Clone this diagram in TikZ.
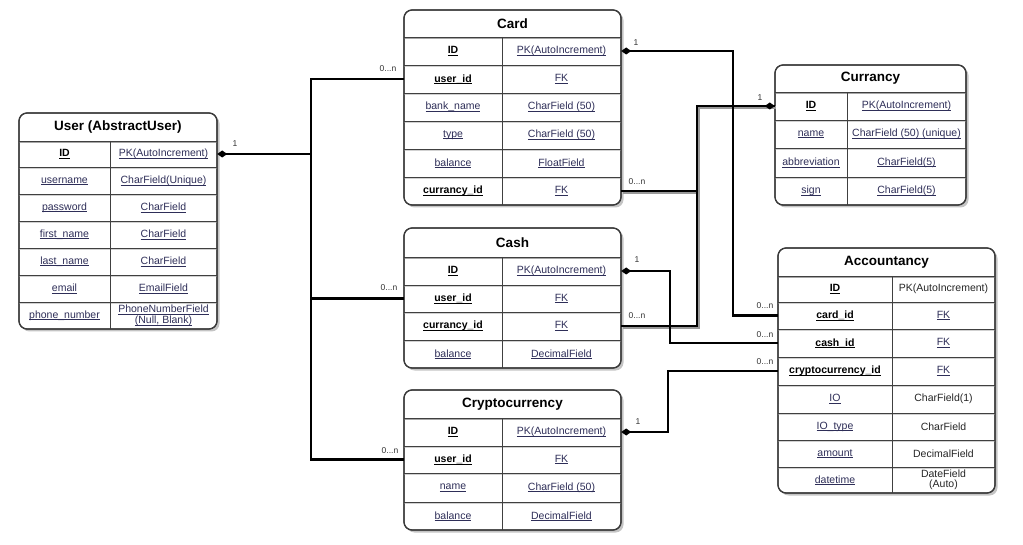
\documentclass[tikz,border=0pt]{standalone}
\usepackage{fontspec}
\setmainfont{Liberation Sans}
\usetikzlibrary{arrows.meta}
\definecolor{ulc}{HTML}{2E2E58}
\definecolor{bordc}{HTML}{3A3A3A}
\definecolor{shc}{HTML}{C4C4C4}
\newsavebox\ulbox
\newcommand\ulx[1]{\sbox\ulbox{#1}\rlap{\rule[-1.6pt]{\wd\ulbox}{0.55pt}}\usebox\ulbox}
\tikzset{
  tbl/.style={draw=bordc, line width=1.2pt, rounded corners=8pt, fill=white},
  tblshadow/.style={fill=shc, rounded corners=8pt},
  title/.style={font=\fontsize{13.5}{16}\selectfont\bfseries, text=black},
  cell/.style={inner sep=0pt, font=\fontsize{10.5}{11.5}\selectfont, align=center, text=ulc},
  keyc/.style={cell, text=black, font=\fontsize{10.5}{11.5}\selectfont\bfseries},
  plainc/.style={cell, text=black!85},
  rowline/.style={draw=black!75, line width=0.9pt},
  rowsh/.style={draw=black!18, line width=1pt},
  conn/.style={draw=black, line width=2.4pt},
  onetip/.style={{Diamond[length=10pt,width=7pt]}-},
  onetipend/.style={-{Diamond[length=10pt,width=7pt]}},
  shconn/.style={draw=black!40, line width=2.4pt, transform canvas={shift={(1.6pt,-1.6pt)}}},
  mult/.style={font=\fontsize{8.5}{9.5}\selectfont, text=black!80, inner sep=1pt},
}
% #1 name #2 x1 #3 y1 #4 x2 #5 y2 #6 header y #7 div x #8 title #9 row lines
\newcommand\ertable[9]{%
  \fill[tblshadow] (#2+2.5,#3+2.5) rectangle (#4+2.5,#5+2.5);
  \draw[tbl] (#2,#3) rectangle (#4,#5);
  \node[title] (#1) at ({(#2+#4)/2},{(#3+#6)/2}) {#8};
  \draw[draw=black!35, line width=2pt] (#2,#6+1) -- (#4,#6+1);
  \draw[rowline] (#2,#6) -- (#4,#6);
  \foreach \yy in {#9} {\draw[rowsh] (#2,\yy+1.2) -- (#4,\yy+1.2); \draw[rowline] (#2,\yy) -- (#4,\yy);}
  \draw[rowline] (#7,#6) -- (#7,#5);
  \draw[tbl, fill=none] (#2,#3) rectangle (#4,#5);
}
% #1 name #2 x1 #3 div #4 x2 #5 y #6 lstyle #7 ltext #8 rstyle #9 rtext
\newcommand\erow[9]{%
  \node[#6, minimum width={#3-#2}] (#1k) at ({(#2+#3)/2},#5) {#7};
  \node[#8, minimum width={#4-#3}] (#1v) at ({(#3+#4)/2},#5) {#9};
}
\begin{document}
\begin{tikzpicture}[x=1pt,y=-1pt]
\useasboundingbox (0,0) rectangle (1023,545);

% User
\ertable{user}{19}{113}{217}{329}{141}{110}{User (AbstractUser)}{167.5,194,221,248,275,302}
\erow{uID}{19}{110}{217}{154}{keyc}{\ulx{ID}}{cell}{\ulx{PK(AutoIncrement)}}
\erow{uName}{19}{110}{217}{181}{cell}{\ulx{username}}{cell}{\ulx{CharField(Unique)}}
\erow{uPass}{19}{110}{217}{207.5}{cell}{\ulx{password}}{cell}{\ulx{CharField}}
\erow{uFirst}{19}{110}{217}{234.5}{cell}{\ulx{first\_name}}{cell}{\ulx{CharField}}
\erow{uLast}{19}{110}{217}{261.5}{cell}{\ulx{last\_name}}{cell}{\ulx{CharField}}
\erow{uMail}{19}{110}{217}{288.5}{cell}{\ulx{email}}{cell}{\ulx{EmailField}}
\erow{uPhone}{19}{110}{217}{315.5}{cell}{\ulx{phone\_number}}{cell}{\ulx{PhoneNumberField}\\[-1pt]\ulx{(Null, Blank)}}

% Card
\ertable{card}{404}{10}{621}{205}{37}{502}{Card}{65,93,121,149,177}
\erow{cID}{404}{502}{621}{51}{keyc}{\ulx{ID}}{cell}{\ulx{PK(AutoIncrement)}}
\erow{cUser}{404}{502}{621}{79}{keyc}{\ulx{user\_id}}{cell}{\ulx{FK}}
\erow{cBank}{404}{502}{621}{107}{cell}{\ulx{bank\_name}}{cell}{\ulx{CharField (50)}}
\erow{cType}{404}{502}{621}{135}{cell}{\ulx{type}}{cell}{\ulx{CharField (50)}}
\erow{cBal}{404}{502}{621}{163}{cell}{\ulx{balance}}{cell}{\ulx{FloatField}}
\erow{cCur}{404}{502}{621}{191}{keyc}{\ulx{currancy\_id}}{cell}{\ulx{FK}}

% Currancy
\ertable{curr}{775}{65}{966}{205}{92}{847}{Currancy}{120,148,177}
\erow{rID}{775}{847}{966}{106}{keyc}{\ulx{ID}}{cell}{\ulx{PK(AutoIncrement)}}
\erow{rName}{775}{847}{966}{134}{cell}{\ulx{name}}{cell}{\ulx{CharField (50) (unique)}}
\erow{rAbbr}{775}{847}{966}{162.5}{cell}{\ulx{abbreviation}}{cell}{\ulx{CharField(5)}}
\erow{rSign}{775}{847}{966}{191}{cell}{\ulx{sign}}{cell}{\ulx{CharField(5)}}

% Cash
\ertable{cash}{404}{228}{621}{368}{257}{502}{Cash}{285,312,340}
\erow{hID}{404}{502}{621}{271}{keyc}{\ulx{ID}}{cell}{\ulx{PK(AutoIncrement)}}
\erow{hUser}{404}{502}{621}{298.5}{keyc}{\ulx{user\_id}}{cell}{\ulx{FK}}
\erow{hCur}{404}{502}{621}{326}{keyc}{\ulx{currancy\_id}}{cell}{\ulx{FK}}
\erow{hBal}{404}{502}{621}{354}{cell}{\ulx{balance}}{cell}{\ulx{DecimalField}}

% Accountancy
\ertable{acc}{778}{248}{995}{493}{276}{892}{Accountancy}{302,329,357,385,413,440,467}
\erow{aID}{778}{892}{995}{289}{keyc}{\ulx{ID}}{plainc}{PK(AutoIncrement)}
\erow{aCard}{778}{892}{995}{315.5}{keyc}{\ulx{card\_id}}{cell}{\ulx{FK}}
\erow{aCash}{778}{892}{995}{343}{keyc}{\ulx{cash\_id}}{cell}{\ulx{FK}}
\erow{aCry}{778}{892}{995}{371}{keyc}{\ulx{cryptocurrency\_id}}{cell}{\ulx{FK}}
\erow{aIO}{778}{892}{995}{399}{cell}{\ulx{IO}}{plainc}{CharField(1)}
\erow{aType}{778}{892}{995}{426.5}{cell}{\ulx{IO\_type}}{plainc}{CharField}
\erow{aAmt}{778}{892}{995}{453.5}{cell}{\ulx{amount}}{plainc}{DecimalField}
\erow{aDate}{778}{892}{995}{480}{cell}{\ulx{datetime}}{plainc}{DateField\\[-1pt](Auto)}

% Cryptocurrency
\ertable{crypto}{404}{390}{621}{530}{418}{502}{Cryptocurrency}{446,473,502}
\erow{yID}{404}{502}{621}{432}{keyc}{\ulx{ID}}{cell}{\ulx{PK(AutoIncrement)}}
\erow{yUser}{404}{502}{621}{459.5}{keyc}{\ulx{user\_id}}{cell}{\ulx{FK}}
\erow{yName}{404}{502}{621}{487.5}{cell}{\ulx{name}}{cell}{\ulx{CharField (50)}}
\erow{yBal}{404}{502}{621}{516}{cell}{\ulx{balance}}{cell}{\ulx{DecimalField}}

% Connectors: User -> Card / Cash / Cryptocurrency
\coordinate (uj) at (311,154);
\draw[conn, onetip] (uIDv.east) -- (uj);
\draw[conn] (uj) |- (cUserk.west);
\draw[conn] (uj) |- (hUserk.west);
\draw[conn] (uj) |- (yUserk.west);

% Currancy (with shadow)
\draw[shconn] (cCurv.east) -- ++(76,0) |- (rIDk.west);
\draw[shconn] (hCurv.east) -- ++(76,0) |- (rIDk.west);
\draw[conn, line width=2pt] (hCurv.east) -- ++(76,0) |- (rIDk.west);
\draw[conn, line width=2pt, onetipend] (cCurv.east) -- ++(76,0) |- (rIDk.west);

% Card -> Accountancy
\draw[conn, onetip] (cIDv.east) -- ++(112,0) |- (aCardk.west);
% Cash -> Accountancy
\draw[conn, onetip] (hIDv.east) -- ++(49,0) |- (aCashk.west);
% Cryptocurrency -> Accountancy
\draw[conn, onetip] (yIDv.east) -- ++(47,0) |- (aCryk.west);

% Multiplicities
\node[mult] (m1) at (235,144) {1};
\node[mult] (m2) at (388,69) {0...n};
\node[mult] (m3) at (389,288) {0...n};
\node[mult] (m4) at (390,451) {0...n};
\node[mult] (m5) at (636,43) {1};
\node[mult] (m6) at (760,98) {1};
\node[mult] (m7) at (637,182) {0...n};
\node[mult] (m8) at (637,316) {0...n};
\node[mult] (m9) at (637,260) {1};
\node[mult] (m10) at (765,306) {0...n};
\node[mult] (m11) at (765,335) {0...n};
\node[mult] (m12) at (765,362) {0...n};
\node[mult] (m13) at (638,422) {1};
\end{tikzpicture}
\end{document}
